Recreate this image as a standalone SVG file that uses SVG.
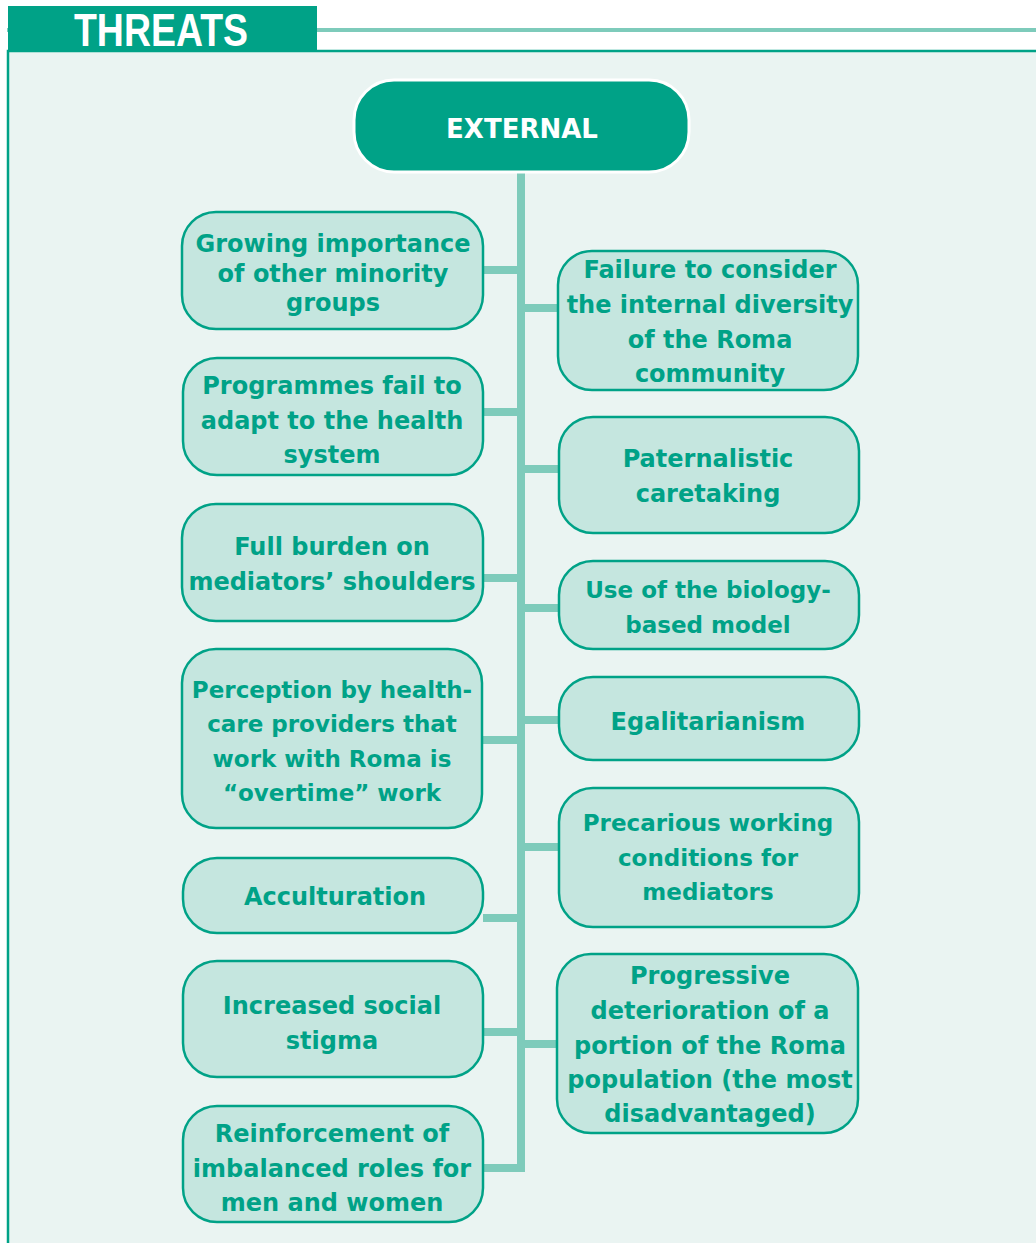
<svg xmlns="http://www.w3.org/2000/svg" width="1036" height="1243" viewBox="0 0 1036 1243">
<style>
.node{fill:#c5e6df;stroke:#00a287;stroke-width:2.5}
.t{font-family:"DejaVu Sans","Liberation Sans",sans-serif;font-weight:bold;fill:#00a287;text-anchor:middle;font-size:24px}
.s{font-size:23px}
.con{stroke:#7ecbbb;stroke-width:8;fill:none}
</style>
<rect x="0" y="0" width="1036" height="1243" fill="#ffffff"/>
<line x1="7" y1="30" x2="1036" y2="30" stroke="#7ecbbb" stroke-width="4"/>
<rect x="8" y="51" width="1040" height="1200" fill="#eaf4f2" stroke="#00a287" stroke-width="2.5"/>
<rect x="8" y="6" width="309" height="45" fill="#00a287"/>
<text x="161" y="46" font-family="Liberation Sans, Arial, sans-serif" font-weight="bold" font-size="46" textLength="174" lengthAdjust="spacingAndGlyphs" fill="#ffffff" text-anchor="middle">THREATS</text>
<g id="connectors">
<path class="con" d="M521 172 V1168 H483"/>
<line class="con" x1="483" y1="270" x2="521" y2="270"/>
<line class="con" x1="483" y1="412" x2="521" y2="412"/>
<line class="con" x1="483" y1="578" x2="521" y2="578"/>
<line class="con" x1="483" y1="740" x2="521" y2="740"/>
<line class="con" x1="483" y1="918" x2="521" y2="918"/>
<line class="con" x1="483" y1="1032" x2="521" y2="1032"/>
<line class="con" x1="521" y1="308" x2="558" y2="308"/>
<line class="con" x1="521" y1="469" x2="558" y2="469"/>
<line class="con" x1="521" y1="608" x2="558" y2="608"/>
<line class="con" x1="521" y1="720" x2="558" y2="720"/>
<line class="con" x1="521" y1="847" x2="558" y2="847"/>
<line class="con" x1="521" y1="1044" x2="558" y2="1044"/>
</g>
<g id="external">
<rect x="354" y="80" width="335" height="92" rx="40" fill="#00a287" stroke="#ffffff" stroke-width="3"/>
<text x="522" y="138" font-family="DejaVu Sans, Liberation Sans, sans-serif" font-weight="bold" font-size="26" fill="#ffffff" text-anchor="middle">EXTERNAL</text>
</g>
<g id="l1"><rect class="node" x="182" y="212" width="301" height="117" rx="34"/>
<text class="t"><tspan x="333" y="252">Growing importance</tspan><tspan x="333" y="282">of other minority</tspan><tspan x="333" y="311">groups</tspan></text></g>
<g id="l2"><rect class="node" x="183" y="358" width="300" height="117" rx="34"/>
<text class="t"><tspan x="332" y="394">Programmes fail to</tspan><tspan x="332" y="429">adapt to the health</tspan><tspan x="332" y="463">system</tspan></text></g>
<g id="l3"><rect class="node" x="182" y="504" width="301" height="117" rx="34"/>
<text class="t"><tspan x="332" y="555">Full burden on</tspan><tspan x="332" y="590">mediators’ shoulders</tspan></text></g>
<g id="l4"><rect class="node" x="182" y="649" width="300" height="179" rx="34"/>
<text class="t s"><tspan x="332" y="698">Perception by health-</tspan><tspan x="332" y="732">care providers that</tspan><tspan x="332" y="767">work with Roma is</tspan><tspan x="332" y="801">“overtime” work</tspan></text></g>
<g id="l5"><rect class="node" x="183" y="858" width="300" height="75" rx="34"/>
<text class="t"><tspan x="335" y="905">Acculturation</tspan></text></g>
<g id="l6"><rect class="node" x="183" y="961" width="300" height="116" rx="34"/>
<text class="t"><tspan x="332" y="1014">Increased social</tspan><tspan x="332" y="1049">stigma</tspan></text></g>
<g id="l7"><rect class="node" x="183" y="1106" width="300" height="116" rx="34"/>
<text class="t"><tspan x="332" y="1142">Reinforcement of</tspan><tspan x="332" y="1177">imbalanced roles for</tspan><tspan x="332" y="1211">men and women</tspan></text></g>
<g id="r1"><rect class="node" x="558" y="251" width="300" height="139" rx="34"/>
<text class="t"><tspan x="710" y="278">Failure to consider</tspan><tspan x="710" y="313">the internal diversity</tspan><tspan x="710" y="348">of the Roma</tspan><tspan x="710" y="382">community</tspan></text></g>
<g id="r2"><rect class="node" x="559" y="417" width="300" height="116" rx="34"/>
<text class="t"><tspan x="708" y="467">Paternalistic</tspan><tspan x="708" y="502">caretaking</tspan></text></g>
<g id="r3"><rect class="node" x="559" y="561" width="300" height="88" rx="34"/>
<text class="t s"><tspan x="708" y="598">Use of the biology-</tspan><tspan x="708" y="633">based model</tspan></text></g>
<g id="r4"><rect class="node" x="559" y="677" width="300" height="83" rx="34"/>
<text class="t"><tspan x="708" y="730">Egalitarianism</tspan></text></g>
<g id="r5"><rect class="node" x="559" y="788" width="300" height="139" rx="34"/>
<text class="t s"><tspan x="708" y="831">Precarious working</tspan><tspan x="708" y="866">conditions for</tspan><tspan x="708" y="900">mediators</tspan></text></g>
<g id="r6"><rect class="node" x="557" y="954" width="301" height="179" rx="34"/>
<text class="t"><tspan x="710" y="984">Progressive</tspan><tspan x="710" y="1019">deterioration of a</tspan><tspan x="710" y="1054">portion of the Roma</tspan><tspan x="710" y="1088">population (the most</tspan><tspan x="710" y="1122">disadvantaged)</tspan></text></g>
</svg>
